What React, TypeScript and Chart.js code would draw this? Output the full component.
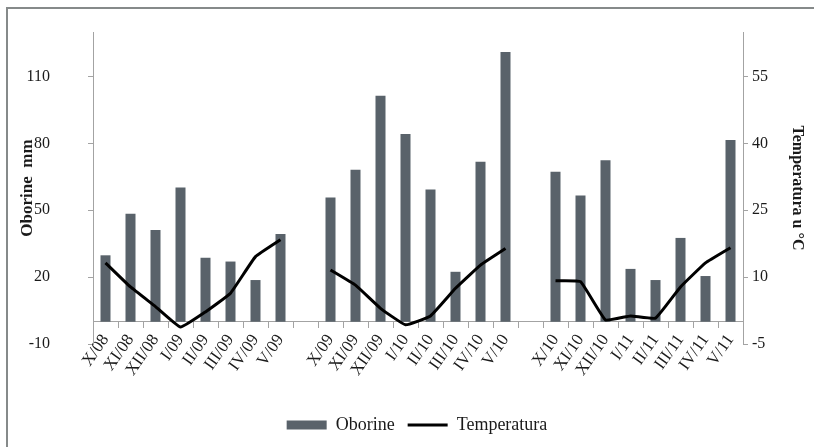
import React, { useEffect, useRef } from 'react';
import { Chart, registerables } from 'chart.js';

Chart.register(...registerables);

const categories = [
  'X/08', 'XI/08', 'XII/08', 'I/09', 'II/09', 'III/09', 'IV/09', 'V/09', '',
  'X/09', 'XI/09', 'XII/09', 'I/10', 'II/10', 'III/10', 'IV/10', 'V/10', '',
  'X/10', 'XI/10', 'XII/10', 'I/11', 'II/11', 'III/11', 'IV/11', 'V/11',
];

const oborine = [
  29.8, 48.5, 41.1, 60.2, 28.7, 27.0, 18.7, 39.4, null,
  55.7, 68.2, 101.4, 84.2, 59.3, 22.4, 71.8, 121.0, null,
  67.3, 56.6, 72.5, 23.7, 18.7, 37.6, 20.5, 81.5,
];

const temperatura = [
  13.2, 7.8, 3.4, -1.2, 2.2, 6.4, 14.6, 18.4, null,
  11.6, 8.2, 3.0, -0.7, 1.3, 7.5, 12.7, 16.4, null,
  9.2, 9.0, 0.4, 1.3, 0.8, 7.8, 13.2, 16.6,
];

const leftTicks = [-10, 20, 50, 80, 110];
const rightTicks = [-5, 10, 25, 40, 55];

const FONT = "'Liberation Serif', 'Times New Roman', serif";
const AXIS = '#a3a3a3';
const TEXT = '#1a1a1a';
const BAR = '#59626a';

export default function App() {
  const ref = useRef<HTMLCanvasElement>(null);

  useEffect(() => {
    const chart = new Chart(ref.current as HTMLCanvasElement, {
      type: 'bar',
      data: {
        labels: categories,
        datasets: [
          {
            type: 'bar',
            label: 'Oborine',
            data: oborine as any,
            backgroundColor: BAR,
            borderWidth: 0,
            yAxisID: 'y',
            order: 1,
            barPercentage: 0.4,
            categoryPercentage: 1,
          },
          {
            type: 'line',
            label: 'Temperatura',
            data: temperatura as any,
            borderColor: '#000000',
            backgroundColor: '#000000',
            borderWidth: 3,
            pointRadius: 0,
            tension: 0.1,
            yAxisID: 'y1',
            order: 0,
            spanGaps: false,
          },
        ] as any,
      },
      options: {
        responsive: false,
        animation: false,
        layout: { padding: { top: 32, bottom: 3, left: 20, right: 0 } },
        plugins: {
          tooltip: { enabled: false },
          legend: {
            position: 'bottom',
            title: {
              display: true,
              text: '',
              font: { family: FONT, size: 10 },
              padding: { top: 47, bottom: 0 },
            },
            labels: {
              color: TEXT,
              font: { family: FONT, size: 18 },
              usePointStyle: true,
              pointStyleWidth: 40,
              boxWidth: 40,
              boxHeight: 9,
              padding: 13,
              generateLabels: (c: any) =>
                (Chart.defaults.plugins.legend.labels.generateLabels as any)(c).map((l: any) => ({
                  ...l,
                  pointStyle: l.datasetIndex === 0 ? 'rect' : 'line',
                })),
              sort: (a: any, b: any) => a.datasetIndex - b.datasetIndex,
            },
          },
        },
        scales: {
          x: {
            position: { y: 0 } as any,
            offset: true,
            grid: {
              display: true,
              offset: true,
              drawOnChartArea: false,
              drawTicks: true,
              tickLength: 6,
              color: AXIS,
            },
            border: { display: true, color: AXIS, width: 1 },
            ticks: {
              autoSkip: false,
              minRotation: 55,
              maxRotation: 55,
              padding: 3,
              color: TEXT,
              font: { family: FONT, size: 17 },
            },
          },
          y: {
            type: 'linear',
            position: 'left',
            min: -10,
            max: 130,
            afterBuildTicks: (s: any) => {
              s.ticks = leftTicks.map((v) => ({ value: v }));
            },
            afterFit: (s: any) => {
              s.width = 73;
              s.paddingTop = 0;
              s.paddingBottom = 0;
            },
            grid: {
              display: true,
              drawOnChartArea: false,
              drawTicks: true,
              tickLength: 5,
              color: AXIS,
            },
            border: { display: true, color: AXIS, width: 1 },
            ticks: {
              padding: 38,
              color: TEXT,
              font: { family: FONT, size: 16 },
            },
            title: {
              display: true,
              text: 'Oborine  mm',
              color: TEXT,
              font: { family: FONT, size: 17, weight: 'bold' },
              padding: { top: -3, bottom: 0 },
            },
          },
          y1: {
            type: 'linear',
            position: 'right',
            min: -5,
            max: 65,
            afterBuildTicks: (s: any) => {
              s.ticks = rightTicks.map((v) => ({ value: v }));
            },
            afterFit: (s: any) => {
              s.width = 71;
              s.paddingTop = 0;
              s.paddingBottom = 0;
            },
            grid: {
              display: true,
              drawOnChartArea: false,
              drawTicks: true,
              tickLength: 5,
              color: AXIS,
            },
            border: { display: true, color: AXIS, width: 1 },
            ticks: {
              padding: 4,
              color: TEXT,
              font: { family: FONT, size: 16 },
            },
            title: {
              display: true,
              text: 'Temperatura u °C',
              color: TEXT,
              font: { family: FONT, size: 16, weight: 'bold' },
              padding: { top: 7, bottom: 0 },
            },
          },
        },
      } as any,
    });
    return () => chart.destroy();
  }, []);

  return (
    <div style={{ position: 'fixed', left: 0, top: 0, width: 814, height: 447, background: '#ffffff' }}>
      <div
        style={{
          position: 'absolute',
          left: 6,
          top: 7,
          width: 808,
          height: 440,
          borderTop: '2px solid #868a8a',
          borderLeft: '2px solid #868a8a',
          boxSizing: 'border-box',
        }}
      />
      <canvas
        ref={ref}
        width={814}
        height={447}
        style={{ position: 'absolute', left: 0, top: 0, width: 814, height: 447 }}
      />
    </div>
  );
}
